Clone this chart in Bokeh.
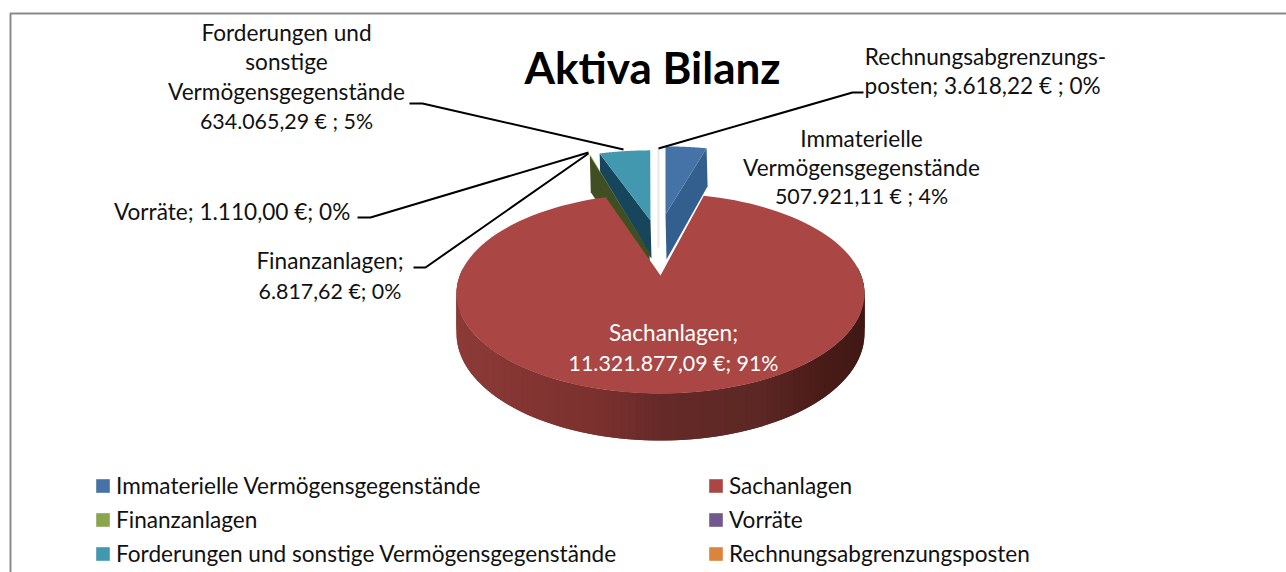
import math
from bokeh.plotting import figure
from bokeh.models import Range1d, Legend, LegendItem, ColumnDataSource
from bokeh.core.properties import value
from bokeh.embed import file_html
from bokeh.resources import INLINE

# ---------- data ----------
categories = ["Immaterielle Vermögensgegenstände", "Sachanlagen", "Finanzanlagen",
              "Vorräte", "Forderungen und sonstige Vermögensgegenstände", "Rechnungsabgrenzungsposten"]
amounts = [507921.11, 11321877.09, 6817.62, 1110.00, 634065.29, 3618.22]
colors = ["#4572A7", "#AA4643", "#89A54E", "#71588F", "#4198AF", "#DB843D"]
title = "Aktiva Bilanz"
label_lines = ["Forderungen und", "sonstige", "Vermögensgegenstände", "634.065,29 € ; 5%",
               "Rechnungsabgrenzungs-", "posten;  3.618,22 € ; 0%",
               "Immaterielle", "Vermögensgegenstände", "507.921,11 € ; 4%",
               "Vorräte;  1.110,00 €; 0%",
               "Finanzanlagen;", "6.817,62 €; 0%"]
inner_lines = ["Sachanlagen;", "11.321.877,09 €; 91%"]

# ---------- layout ----------
FONT = "Lato"
TXT = "22.6px"
NUM = "21.4px"
label_x = [286, 286, 286, 286, 985, 985, 861, 861, 861, 234.5, 329.5, 329.5]
label_y = [32, 61, 91, 120, 56, 85, 138, 167, 195, 211, 260, 290]
label_size = [TXT, TXT, TXT, NUM, TXT, TXT, TXT, TXT, NUM, TXT, TXT, NUM]
P_PERSP, KX, KY = 0.18, 200.7, 96.8

p = figure(width=1286, height=572, x_range=Range1d(0, 1286), y_range=Range1d(572, 0),
           output_backend="svg", toolbar_location=None, min_border=0,
           background_fill_color="white", border_fill_color="white")
p.axis.visible = False
p.grid.visible = False
p.outline_line_color = None

# frame
p.line([10, 10, 1286], [572, 13, 13], line_color="#8a8a8a", line_width=2)

total = sum(amounts)
edges = [0.0]
for a in amounts:
    edges.append(edges[-1] + a / total * 360.0)


def pt(theta, apex, sx=1.0, sy=1.0):
    t = math.radians(theta)
    u, v = math.sin(t), math.cos(t)
    w = 1 + P_PERSP * v
    return apex[0] + sx * KX * u / w, apex[1] - sy * KY * v / w


def arc(a0, a1, apex, sx=1.0, sy=1.0, n=120):
    return [pt(a0 + (a1 - a0) * i / n, apex, sx, sy) for i in range(n + 1)]


def wedge(a0, a1, apex, sx=1.0, sy=1.0, **kw):
    pts = [apex] + arc(a0, a1, apex, sx, sy)
    return p.patch([q[0] for q in pts], [q[1] for q in pts], line_color=None, **kw)


def face(theta, apex, sx, sy, d_outer, d_apex, color):
    o = pt(theta, apex, sx, sy)
    xs = [o[0], o[0] + 1, apex[0] + 1, apex[0]]
    ys = [o[1], o[1] + d_outer, apex[1] + d_apex, apex[1]]
    p.patch(xs, ys, fill_color=color, line_color=None)


def lerp_color(x, stops):
    for (x0, c0), (x1, c1) in zip(stops, stops[1:]):
        if x <= x1:
            f = max(0.0, (x - x0) / (x1 - x0))
            return "#%02x%02x%02x" % tuple(round(a + (b - a) * f) for a, b in zip(c0, c1))
    return "#%02x%02x%02x" % stops[-1][1]


# teal slice cut face
TEAL_APEX = (650, 220)
face(edges[4], TEAL_APEX, 0.94, 0.855, 40, 38, "#17465c")
# olive cut face of the thin Finanzanlagen slice
FIN_APEX = (649, 252)
face(edges[2], FIN_APEX, 1.09, 1.24, 37, 30, "#3f4f22")
r_fin = wedge(edges[2], edges[3], FIN_APEX, 1.09, 1.24, fill_color=colors[2])
r_vor = wedge(edges[3], edges[4], FIN_APEX, 1.09, 1.24, fill_color=colors[3])
r_for = wedge(edges[4], edges[5], TEAL_APEX, 0.94, 0.855, fill_color=colors[4])

# blue slice
BLUE_APEX = (665, 214)
face(edges[1], BLUE_APEX, 0.95, 0.83, 38, 45, "#335f8f")
r_imm = wedge(edges[0], edges[1], BLUE_APEX, 0.95, 0.83, fill_color=colors[0])

# thin Rechnungsabgrenzung slice
R_APEX = (658, 247)
r_rec = wedge(edges[5], edges[6], R_APEX, 1.0, 1.2, fill_color=colors[5])
o = pt(360, R_APEX, 1.0, 1.2)
p.line([o[0], R_APEX[0]], [o[1], R_APEX[1]], line_color="#e8e8e8", line_width=2)

# big slice: rim, then top
RED_APEX = (660, 275)
stops = [(457, (0x8c, 0x3a, 0x37)), (600, (0x7a, 0x30, 0x2e)), (660, (0x65, 0x2a, 0x28)),
         (760, (0x5c, 0x27, 0x24)), (820, (0x4a, 0x1c, 0x18)), (865, (0x3f, 0x18, 0x14))]
rim = arc(275.0, 85.0, RED_APEX, n=100)


def depth(q):
    return 40 + 7 * min(1.0, max(-1.0, (q[1] - 293) / 100))


for i in range(len(rim) - 1):
    a, b = rim[i], rim[min(i + 2, len(rim) - 1)]
    c = lerp_color((rim[i][0] + rim[i + 1][0]) / 2, stops)
    p.patch([a[0], b[0], b[0], a[0]], [a[1], b[1], b[1] + depth(b), a[1] + depth(a)],
            fill_color=c, line_color=None)
r_sach = wedge(edges[1], edges[2], RED_APEX, fill_color=colors[1])

# leader lines
for xs, ys in [([409, 422, 623], [103, 103, 149]),
               ([863, 852, 658], [92, 92, 148]),
               ([357, 370, 588], [217, 217, 152]),
               ([413, 425, 588], [267, 267, 153])]:
    p.line(xs, ys, line_color="black", line_width=2)

# texts
p.text(x=[652], y=[66], text=[title], text_font=value(FONT), text_font_size="44px",
       text_font_style="bold", text_align="center", text_baseline="middle", text_color="black")
src = ColumnDataSource(dict(x=label_x, y=label_y, t=label_lines, s=label_size))
p.text(x="x", y="y", text="t", source=src, text_font=value(FONT), text_font_size="s",
       text_align="center", text_baseline="middle", text_color="#111111")
p.text(x=[673, 673], y=[332, 362], text=inner_lines, text_font=value(FONT),
       text_font_size=[TXT, NUM], text_align="center", text_baseline="middle", text_color="white")

# legends
renderers = [r_imm, r_sach, r_fin, r_vor, r_for, r_rec]
for col, loc in ((0, (94, 5)), (1, (707, 5))):
    items = [LegendItem(label=categories[i], renderers=[renderers[i]]) for i in range(col, 6, 2)]
    leg = Legend(items=items, location=loc, orientation="vertical", padding=0, margin=0, spacing=7,
                 glyph_width=17, glyph_height=17, label_standoff=5, label_height=24,
                 label_text_font=FONT, label_text_font_size=TXT, label_text_color="#111111",
                 border_line_color=None, background_fill_alpha=0)
    p.add_layout(leg, "center")

open("out.html", "w").write(file_html(p, INLINE))
